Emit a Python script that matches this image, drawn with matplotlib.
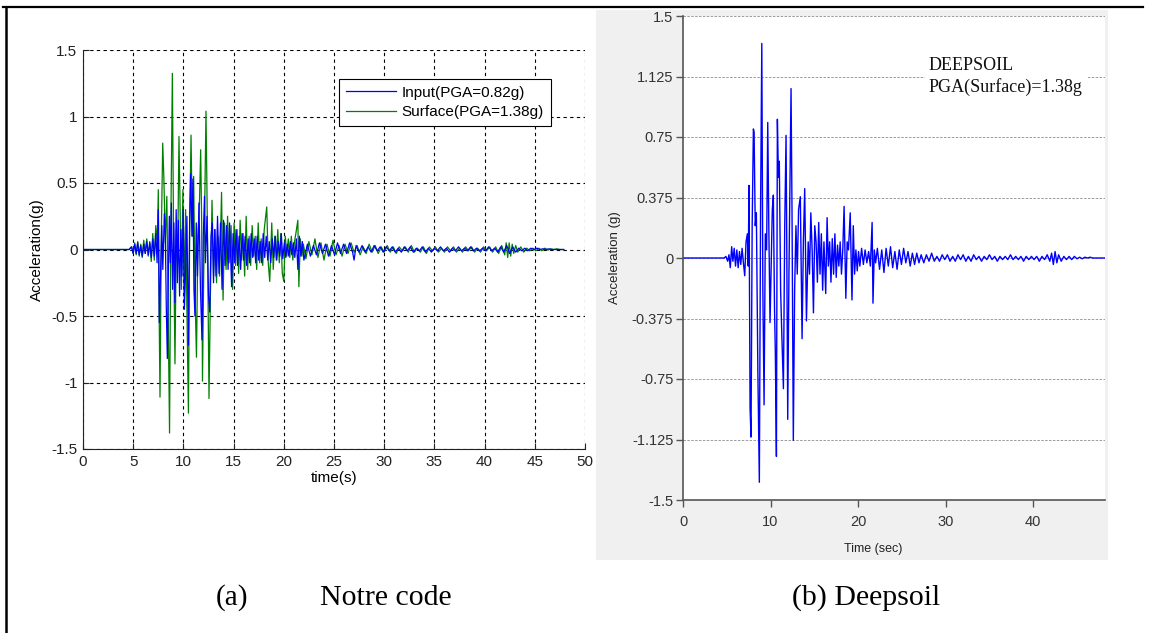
import matplotlib
matplotlib.use("Agg")
import matplotlib.pyplot as plt
from matplotlib.patches import Rectangle
from matplotlib.lines import Line2D

# ---------------- data (time [s], acceleration [g]) ----------------
# (a) our code: input motion
input_early = [(0, 0), (4.6, 0), (4.85, 0.02), (5.0, -0.03), (5.15, 0.04), (5.3, -0.03), (5.45, 0.05),
               (5.6, -0.04), (5.75, 0.03), (5.9, -0.05), (6.05, 0.04), (6.2, -0.03), (6.35, 0.06),
               (6.5, -0.04), (6.65, 0.05), (6.8, -0.06), (6.95, 0.08), (7.1, -0.05), (7.25, 0.12),
               (7.38, -0.1)]
input_strong = [(7.5, 0.30), (7.6, -0.55), (7.72, -0.2), (7.85, 0.18), (7.95, -0.15), (8.1, 0.27),
                (8.2, 0.1), (8.3, -0.45), (8.4, -0.82), (8.5, -0.2), (8.6, 0.25), (8.7, -0.1),
                (8.8, 0.35), (8.92, -0.3), (9.05, 0.2), (9.15, -0.4), (9.28, 0.3), (9.4, -0.25),
                (9.5, 0.22), (9.62, -0.35), (9.75, 0.15), (9.85, -0.2), (9.98, 0.3), (10.1, -0.45),
                (10.22, -0.15), (10.35, 0.25), (10.5, -0.72), (10.62, 0.2), (10.72, 0.57),
                (10.85, 0.1), (10.95, 0.53), (11.05, -0.3), (11.15, -0.5), (11.28, 0.2),
                (11.4, -0.2), (11.55, 0.35), (11.7, -0.3), (11.85, -0.68), (11.98, 0.1),
                (12.1, 0.4), (12.2, -0.1), (12.35, 0.25), (12.5, -0.35), (12.62, -0.47),
                (12.75, 0.1), (12.88, 0.2), (13.0, -0.25)]
input_coda = [(13.12, 0.15), (13.25, -0.2), (13.4, 0.25), (13.55, -0.18), (13.7, 0.2), (13.85, -0.3),
              (14.0, 0.22), (14.15, -0.12), (14.3, 0.18), (14.45, -0.15), (14.6, 0.2), (14.8, -0.28),
              (14.95, 0.12), (15.1, -0.1), (15.25, 0.15), (15.4, -0.12), (15.55, 0.1), (15.7, -0.15),
              (15.85, 0.12), (16.0, -0.08), (16.15, 0.1), (16.3, -0.12), (16.45, 0.08), (16.6, -0.1),
              (16.75, 0.12), (16.9, -0.06), (17.05, 0.08), (17.2, -0.1), (17.35, 0.1), (17.5, -0.08),
              (17.65, 0.06), (17.8, -0.1), (17.95, 0.12), (18.1, -0.06), (18.25, 0.1), (18.4, -0.08),
              (18.55, 0.06), (18.7, -0.1), (18.85, 0.08), (19.0, -0.06), (19.15, 0.1), (19.3, -0.08),
              (19.45, 0.06), (19.6, -0.05), (19.75, 0.12), (19.9, -0.07), (20.05, 0.05), (20.2, -0.06),
              (20.35, 0.04), (20.5, -0.05), (20.65, 0.06), (20.8, -0.04), (20.95, 0.05), (21.1, -0.06),
              (21.25, 0.08), (21.4, -0.15), (21.55, 0.1), (21.7, -0.05), (21.85, 0.06), (22.0, -0.08)]
input_tail = [(22.35, 0.04), (22.65, -0.05), (22.95, 0.03), (23.25, -0.04), (23.55, 0.05), (23.85, -0.03),
              (24.15, 0.04), (24.45, -0.05), (24.75, 0.03), (25.05, -0.04), (25.35, 0.05), (25.65, -0.03),
              (25.95, 0.04), (26.25, -0.03), (26.55, 0.05), (26.85, -0.02), (27.0, -0.08), (27.2, 0.03),
              (27.5, -0.02), (27.8, 0.03), (28.1, -0.02), (28.4, 0.02), (28.7, -0.02), (29.0, 0.03),
              (29.3, -0.01), (29.6, 0.02), (29.9, -0.02), (30.2, 0.02), (30.5, -0.01), (30.8, 0.02),
              (31.1, -0.02), (31.4, 0.01), (31.7, -0.02), (32.0, 0.02), (32.3, -0.01), (32.6, 0.02),
              (32.9, -0.02), (33.2, 0.01), (33.5, -0.01), (33.8, 0.02), (34.1, -0.02), (34.4, 0.01),
              (34.7, -0.02), (35.0, 0.01), (35.3, -0.01), (35.6, 0.02), (35.9, -0.01), (36.2, 0.01),
              (36.5, -0.02), (36.8, 0.01), (37.1, -0.01), (37.4, 0.02), (37.7, -0.01), (38.0, 0.01),
              (38.3, -0.01), (38.6, 0.02), (38.9, -0.01), (39.2, 0.01), (39.5, -0.01), (39.8, 0.01),
              (40.1, -0.01), (40.4, 0.02), (40.7, -0.01), (41.0, 0.01), (41.3, -0.02), (41.6, 0.02),
              (41.9, -0.02), (42.2, 0.03), (42.5, -0.03), (42.8, 0.02), (43.1, -0.02), (43.4, 0.01),
              (43.7, -0.01), (44.0, 0.01), (44.3, -0.01), (44.6, 0.01), (44.9, 0.0), (45.2, 0.01),
              (45.5, 0.0), (45.8, 0.005), (46.1, 0.0), (46.4, 0.005), (46.7, 0.0), (47.0, 0.0),
              (47.3, 0.0), (47.6, 0.0), (47.9, 0.0)]

# (a) our code: surface motion
surface_early = [(0, 0), (4.6, 0), (4.8, 0.02), (5.0, -0.03), (5.15, 0.05), (5.3, -0.04), (5.45, 0.06),
                 (5.6, -0.05), (5.75, 0.04), (5.9, -0.06), (6.05, 0.07), (6.2, -0.03), (6.35, 0.08),
                 (6.5, -0.05), (6.65, 0.06), (6.8, -0.09), (6.95, 0.12), (7.1, -0.08), (7.25, 0.18),
                 (7.4, 0.05)]
surface_strong = [(7.5, 0.45), (7.6, -0.6), (7.67, -1.11), (7.8, 0.1), (7.94, 0.80), (8.05, 0.55),
                  (8.2, 0.05), (8.35, 0.4), (8.5, -0.55), (8.62, -1.38), (8.75, 0.2), (8.9, 1.325),
                  (9.02, 0.1), (9.16, -0.86), (9.3, 0.15), (9.42, -0.1), (9.56, 0.85), (9.68, 0.3),
                  (9.8, -0.3), (9.95, 0.45), (10.1, -0.35), (10.22, 0.3), (10.35, -0.45), (10.5, -1.23),
                  (10.63, 0.2), (10.76, 0.86), (10.9, 0.1), (11.02, 0.55), (11.15, -0.3), (11.3, -0.81),
                  (11.45, 0.1), (11.6, 0.35), (11.72, 0.75), (11.82, 0.2), (11.9, -0.99), (12.02, -0.2),
                  (12.12, 0.3), (12.25, 1.04), (12.4, 0.1), (12.55, -1.12), (12.7, -0.3), (12.85, 0.37),
                  (13.0, -0.2)]
surface_coda = [(13.15, 0.15), (13.3, -0.25), (13.45, 0.1), (13.6, -0.2), (13.8, 0.43), (13.95, -0.38),
                (14.1, 0.2), (14.25, -0.15), (14.4, 0.25), (14.55, -0.1), (14.75, 0.18), (14.9, -0.3),
                (15.05, 0.2), (15.2, -0.12), (15.35, 0.15), (15.5, -0.18), (15.65, 0.22), (15.8, -0.08),
                (15.95, 0.12), (16.1, -0.2), (16.25, 0.25), (16.4, -0.15), (16.55, 0.1), (16.7, -0.12),
                (16.85, 0.18), (17.0, -0.05), (17.15, 0.1), (17.3, -0.15), (17.45, 0.2), (17.6, -0.1),
                (17.75, 0.08), (17.9, -0.12), (18.05, 0.15), (18.2, 0.25), (18.3, 0.32), (18.45, -0.1),
                (18.6, -0.24), (18.8, 0.2), (18.95, -0.15), (19.1, 0.1), (19.25, -0.08), (19.4, 0.15),
                (19.55, -0.1), (19.7, 0.12), (19.85, -0.18), (20.0, -0.24), (20.15, 0.1), (20.3, -0.05),
                (20.45, 0.08), (20.6, -0.06), (20.75, 0.1), (20.9, -0.08), (21.05, 0.05), (21.2, 0.12),
                (21.4, 0.22), (21.5, -0.28), (21.65, 0.08), (21.8, -0.05), (21.95, 0.04)]
surface_tail = [(22.2, -0.07), (22.5, 0.06), (22.8, -0.04), (23.1, 0.08), (23.4, -0.06), (23.7, 0.05),
                (24.0, -0.08), (24.3, 0.04), (24.6, -0.05), (24.9, 0.07), (25.2, -0.04), (25.5, 0.03),
                (25.8, -0.05), (26.1, 0.04), (26.4, -0.03), (26.7, 0.05), (27.0, -0.02), (27.3, 0.03),
                (27.6, -0.04), (27.9, 0.02), (28.2, -0.03), (28.5, 0.04), (28.8, -0.02), (29.1, 0.03),
                (29.4, -0.03), (29.7, 0.02), (30.0, -0.02), (30.3, 0.03), (30.6, -0.02), (30.9, 0.02),
                (31.2, -0.03), (31.5, 0.02), (31.8, -0.01), (32.1, 0.02), (32.4, -0.02), (32.7, 0.03),
                (33.0, -0.02), (33.3, 0.01), (33.6, -0.02), (33.9, 0.02), (34.2, -0.03), (34.5, 0.02),
                (34.8, -0.01), (35.1, 0.02), (35.4, -0.02), (35.7, 0.01), (36.0, -0.02), (36.3, 0.02),
                (36.6, -0.01), (36.9, 0.02), (37.2, -0.02), (37.5, 0.01), (37.8, -0.02), (38.1, 0.02),
                (38.4, -0.01), (38.7, 0.02), (39.0, -0.02), (39.3, 0.01), (39.6, -0.02), (39.9, 0.02),
                (40.2, -0.01), (40.5, 0.02), (40.8, -0.02), (41.1, 0.02), (41.4, -0.03), (41.7, 0.03),
                (42.0, -0.04), (42.15, 0.05), (42.3, -0.06), (42.45, 0.05), (42.6, -0.05), (42.75, 0.04),
                (42.9, -0.03), (43.1, 0.03), (43.3, -0.02), (43.6, 0.02), (43.9, -0.02), (44.2, 0.01),
                (44.5, -0.01), (44.8, 0.01), (45.1, -0.01), (45.4, 0.01), (45.7, -0.01), (46.0, 0.01),
                (46.3, -0.005), (46.6, 0.005), (46.9, 0.0), (47.2, 0.005), (47.5, 0.0), (47.8, 0.0)]

# (b) DEEPSOIL: surface motion
deepsoil_early = [(0, 0), (4.7, 0), (4.9, 0.01), (5.1, -0.02), (5.25, 0.02), (5.4, -0.06), (5.56, 0.07),
                  (5.7, -0.02), (5.85, 0.06), (6.0, -0.05), (6.15, 0.05), (6.3, -0.06), (6.45, 0.04),
                  (6.6, -0.04), (6.75, 0.06), (6.9, -0.03), (7.05, -0.11), (7.2, 0.10), (7.35, 0.15),
                  (7.45, -0.05)]
deepsoil_strong = [(7.54, 0.45), (7.66, -0.93), (7.77, -1.11), (7.9, 0.2), (8.04, 0.80), (8.12, 0.78),
                   (8.25, 0.2), (8.38, 0.28), (8.55, -0.7), (8.72, -1.39), (8.86, 0.3), (9.0, 1.33),
                   (9.12, -0.2), (9.26, -0.91), (9.4, 0.15), (9.55, 0.05), (9.68, 0.84), (9.8, 0.2),
                   (9.94, -0.40), (10.1, 0.05), (10.2, 0.3), (10.32, 0.39), (10.45, -0.3), (10.55, -0.6),
                   (10.67, -1.23), (10.78, 0.86), (10.9, 0.5), (11.0, 0.6), (11.15, -0.2), (11.3, -0.5),
                   (11.47, -0.81), (11.62, 0.2), (11.77, 0.76), (11.85, 0.1), (11.96, -1.0), (12.1, -0.1),
                   (12.2, 0.4), (12.34, 1.05), (12.45, 0.3), (12.6, -1.13), (12.75, -0.2), (12.9, 0.2)]
deepsoil_coda = [(13.05, -0.1), (13.2, 0.3), (13.4, 0.38), (13.6, -0.50), (13.75, 0.1), (13.9, 0.43),
                 (14.1, -0.39), (14.3, 0.1), (14.45, -0.1), (14.6, 0.28), (14.75, 0.05), (14.9, -0.34),
                 (15.05, 0.2), (15.2, 0.1), (15.35, -0.15), (15.5, 0.22), (15.65, -0.1), (15.8, 0.15),
                 (15.95, -0.2), (16.1, 0.1), (16.3, -0.22), (16.46, 0.25), (16.6, -0.05), (16.75, 0.1),
                 (16.9, -0.15), (17.05, 0.12), (17.2, -0.1), (17.35, 0.15), (17.5, -0.12), (17.65, 0.08),
                 (17.8, -0.05), (17.95, 0.1), (18.1, -0.1), (18.25, 0.05), (18.4, 0.32), (18.6, -0.25),
                 (18.75, 0.1), (18.9, 0.05), (19.1, 0.28), (19.3, -0.26), (19.45, 0.2), (19.6, -0.1),
                 (19.75, 0.05), (19.9, -0.08), (20.05, 0.04), (20.2, -0.05), (20.4, 0.06), (20.6, -0.04),
                 (20.8, 0.05), (21.0, -0.03), (21.2, 0.04), (21.4, -0.05), (21.6, 0.22), (21.7, -0.28),
                 (21.85, 0.05), (22.0, -0.03)]
deepsoil_tail = [(22.2, 0.06), (22.45, -0.07), (22.7, 0.05), (22.95, -0.09), (23.2, 0.06), (23.45, -0.05),
                 (23.7, 0.07), (23.95, -0.06), (24.2, 0.04), (24.45, -0.07), (24.7, 0.05), (24.95, -0.04),
                 (25.2, 0.06), (25.45, -0.03), (25.7, 0.04), (25.95, -0.05), (26.2, 0.03), (26.45, -0.04),
                 (26.7, 0.03), (26.95, -0.03), (27.2, 0.02), (27.5, -0.03), (27.8, 0.02), (28.1, -0.02),
                 (28.4, 0.03), (28.7, -0.02), (29.0, 0.01), (29.3, -0.02), (29.6, 0.02), (29.9, -0.01),
                 (30.2, 0.02), (30.5, -0.02), (30.8, 0.01), (31.1, -0.02), (31.4, 0.02), (31.7, -0.01),
                 (32.0, 0.02), (32.3, -0.02), (32.6, 0.01), (32.9, -0.02), (33.2, 0.02), (33.5, -0.01),
                 (33.8, 0.01), (34.1, -0.02), (34.4, 0.01), (34.7, -0.01), (35.0, 0.02), (35.3, -0.01),
                 (35.6, 0.01), (35.9, -0.02), (36.2, 0.01), (36.5, -0.01), (36.8, 0.01), (37.1, -0.01),
                 (37.4, 0.02), (37.7, -0.01), (38.0, 0.01), (38.3, -0.01), (38.6, 0.01), (38.9, -0.02),
                 (39.2, 0.01), (39.5, -0.01), (39.8, 0.01), (40.1, -0.01), (40.4, 0.01), (40.7, -0.02),
                 (41.0, 0.01), (41.3, -0.01), (41.6, 0.02), (41.9, -0.02), (42.1, 0.03), (42.3, -0.04),
                 (42.5, 0.04), (42.7, -0.03), (42.9, 0.02), (43.2, -0.02), (43.5, 0.01), (43.8, -0.01),
                 (44.1, 0.01), (44.4, -0.01), (44.7, 0.01), (45.0, -0.005), (45.3, 0.005), (45.6, -0.005),
                 (45.9, 0.005), (46.2, 0.0), (46.5, 0.005), (46.8, 0.0), (47.1, 0.0), (47.4, 0.0),
                 (47.7, 0.0), (48.2, 0.0)]

left_xticks = [0, 5, 10, 15, 20, 25, 30, 35, 40, 45, 50]
left_yticks = [-1.5, -1, -0.5, 0, 0.5, 1, 1.5]
left_ylabels = ['-1.5', '-1', '-0.5', '0', '0.5', '1', '1.5']
right_xticks = [0, 10, 20, 30, 40]
right_yticks = [-1.5, -1.125, -0.75, -0.375, 0, 0.375, 0.75, 1.125, 1.5]
right_ylabels = ['-1.5', '-1.125', '-0.75', '-0.375', '0', '0.375', '0.75', '1.125', '1.5']


def unzip(*segments):
    pts = [p for seg in segments for p in seg]
    return [p[0] for p in pts], [p[1] for p in pts]


t_in, a_in = unzip(input_early, input_strong, input_coda, input_tail)
t_sf, a_sf = unzip(surface_early, surface_strong, surface_coda, surface_tail)
t_ds, a_ds = unzip(deepsoil_early, deepsoil_strong, deepsoil_coda, deepsoil_tail)

# ---------------- figure ----------------
W, H = 1152, 633
fig = plt.figure(figsize=(W / 100, H / 100), dpi=100)
fig.patch.set_facecolor('white')


def fx(px):
    return px / W


def fy(py):
    return 1 - py / H


SANS = ['Liberation Sans', 'DejaVu Sans']
SERIF = ['Liberation Serif', 'DejaVu Serif']

# grey background of the DEEPSOIL screenshot
fig.patches.append(Rectangle((fx(596), fy(560)), fx(1108) - fx(596), fy(10) - fy(560),
                             transform=fig.transFigure, facecolor='#f0f0f0',
                             edgecolor='none', zorder=-10))
# table frame lines
fig.add_artist(Line2D([fx(3), fx(1143)], [fy(7), fy(7)], color='black', lw=1.6))
fig.add_artist(Line2D([fx(6), fx(6)], [fy(7), 0], color='black', lw=1.8))

# ---------- left panel ----------
ax1 = fig.add_axes([fx(83), fy(449), fx(585) - fx(83), fy(50) - fy(449)])
l_sf, = ax1.plot(t_sf, a_sf, color='#008000', lw=0.9, label='Surface(PGA=1.38g)', zorder=2)
l_in, = ax1.plot(t_in, a_in, color='#0000ff', lw=0.9, label='Input(PGA=0.82g)', zorder=3)
ax1.set_xlim(0, 50)
ax1.set_ylim(-1.5, 1.5)
ax1.set_xticks(left_xticks)
ax1.set_xticklabels([str(v) for v in left_xticks], family=SANS, fontsize=11)
ax1.set_yticks(left_yticks)
ax1.set_yticklabels(left_ylabels, family=SANS, fontsize=11)
ax1.grid(True, color='black', linestyle=(0, (3, 3)), lw=0.8)
ax1.set_axisbelow(True)
for s in ('top', 'right'):
    ax1.spines[s].set_visible(False)
for s in ('left', 'bottom'):
    ax1.spines[s].set_color('#222222')
    ax1.spines[s].set_linewidth(0.8)
ax1.tick_params(direction='in', length=4, width=0.8, pad=4, colors='#222222')
ax1.set_xlabel('time(s)', family=SANS, fontsize=11, labelpad=2)
ax1.set_ylabel('Acceleration(g)', family=SANS, fontsize=11, labelpad=5)
leg = ax1.legend(handles=[l_in, l_sf], loc='upper left', bbox_to_anchor=(0.51, 0.928),
                 prop={'family': SANS, 'size': 11}, fancybox=False, framealpha=1,
                 edgecolor='black', borderpad=0.45, handlelength=3.3, handletextpad=0.35,
                 labelspacing=0.35, borderaxespad=0)
leg.get_frame().set_linewidth(0.8)

# ---------- right panel ----------
ax2 = fig.add_axes([fx(683), fy(500), fx(1105) - fx(683), fy(16) - fy(500)])
ax2.set_facecolor('white')
ax2.plot(t_ds, a_ds, color='#0000ff', lw=1.0)
ax2.set_xlim(0, 48.2)
ax2.set_ylim(-1.5, 1.5)
ax2.set_xticks(right_xticks)
ax2.set_xticklabels([str(v) for v in right_xticks], family=SANS, fontsize=10.5, color='#333333')
ax2.set_yticks(right_yticks)
ax2.set_yticklabels(right_ylabels, family=SANS, fontsize=10.5, color='#333333')
ax2.yaxis.grid(True, color='#9a9a9a', linestyle=(0, (2.5, 1.5)), lw=0.7)
ax2.set_axisbelow(True)
for s in ('top', 'right'):
    ax2.spines[s].set_visible(False)
for s in ('left', 'bottom'):
    ax2.spines[s].set_color('#555555')
    ax2.spines[s].set_linewidth(1.2)
ax2.tick_params(direction='out', length=5, width=1, color='#555555', pad=2)
ax2.tick_params(axis='x', pad=6)
ax2.set_ylabel('Acceleration (g)', family=SANS, fontsize=9.5, color='#222222', labelpad=8)
fig.text(fx(873), fy(549), 'Time (sec)', family=SANS, fontsize=9, color='#222222',
         ha='center', va='center')

fig.text(fx(929), fy(57), 'DEEPSOIL\nPGA(Surface)=1.38g', family=SERIF, fontsize=13,
         ha='left', va='top', linespacing=1.3, color='#111111', zorder=5,
         bbox=dict(facecolor='white', edgecolor='none', pad=3))

# ---------- captions ----------
fig.text(fx(232), fy(598), '(a)', family=SERIF, fontsize=21, ha='center', va='center')
fig.text(fx(386), fy(598), 'Notre code', family=SERIF, fontsize=21.5, ha='center', va='center')
fig.text(fx(866), fy(598), '(b) Deepsoil', family=SERIF, fontsize=21.5, ha='center', va='center')

fig.savefig('out.png', dpi=100, facecolor='white')
